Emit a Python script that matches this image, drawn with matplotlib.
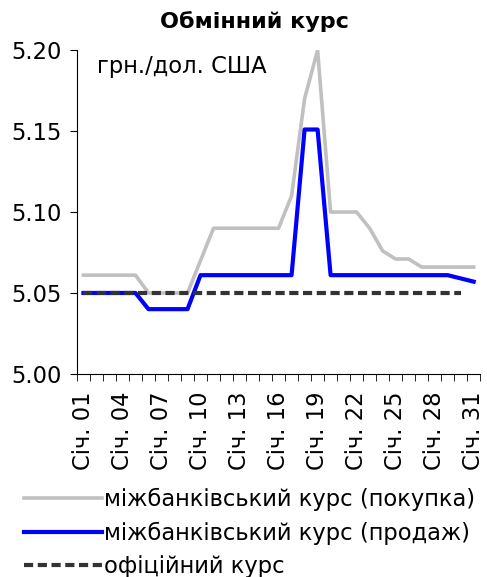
import matplotlib
matplotlib.use('Agg')
import matplotlib.pyplot as plt
import numpy as np

plt.rcParams['font.family'] = ['DejaVu Sans']

days = list(range(1, 32))
tick_days = [1, 4, 7, 10, 13, 16, 19, 22, 25, 28, 31]
tick_labels = ["Січ. %02d" % d for d in tick_days]

buy = [5.061, 5.061, 5.061, 5.061, 5.061, 5.050, 5.050, 5.050, 5.050, 5.070,
       5.090, 5.090, 5.090, 5.090, 5.090, 5.090, 5.110, 5.170, 5.200, 5.100,
       5.100, 5.100, 5.090, 5.076, 5.071, 5.071, 5.066, 5.066, 5.066, 5.066, 5.066]
sell = [5.050, 5.050, 5.050, 5.050, 5.050, 5.040, 5.040, 5.040, 5.040, 5.061,
        5.061, 5.061, 5.061, 5.061, 5.061, 5.061, 5.061, 5.151, 5.151, 5.061,
        5.061, 5.061, 5.061, 5.061, 5.061, 5.061, 5.061, 5.061, 5.061, 5.059, 5.057]
official = [5.05] * 30 + [np.nan]

fs = 16.3

fig = plt.figure(figsize=(4.87, 5.77), dpi=100)
ax = fig.add_axes([0.158, 0.352, 0.828, 0.561])

x = np.arange(len(days))
ax.plot(x, buy, color='#c0c0c0', lw=2.6, label='міжбанківський курс (покупка)')
ax.plot(x, sell, color='#0000ff', lw=3.0, label='міжбанківський курс (продаж)')
ax.plot(x, official, color='#333333', lw=3.0, dashes=(2.2, 1.1),
        label='офіційний курс')

ax.set_xlim(-0.5, len(days) - 0.5)
ax.set_ylim(5.0, 5.2)
yt = [5.00, 5.05, 5.10, 5.15, 5.20]
ax.set_yticks(yt)
ax.set_yticklabels(["%.2f" % v for v in yt], fontsize=fs)

ax.set_xticks([days.index(d) for d in tick_days])
ax.set_xticklabels(tick_labels, rotation=90, fontsize=fs)
ax.set_xticks(np.arange(len(days) + 1) - 0.5, minor=True)
ax.tick_params(axis='x', which='major', length=0, pad=13)
ax.tick_params(axis='x', which='minor', length=5, direction='out')
ax.tick_params(axis='y', length=5, direction='out', pad=6)

for s in ['top', 'right']:
    ax.spines[s].set_visible(False)

ax.text(0.05, 0.95, 'грн./дол. США', transform=ax.transAxes,
        fontsize=fs, va='center', ha='left')
fig.text(0.522, 0.962, 'Обмінний курс', fontsize=16, fontweight='bold',
         ha='center', va='center')

fig.legend(loc='upper left', bbox_to_anchor=(0.03, 0.17), frameon=False,
           fontsize=fs, handlelength=3.45, handletextpad=0.1,
           labelspacing=0.45, borderaxespad=0)

fig.savefig('out.png', dpi=100)
